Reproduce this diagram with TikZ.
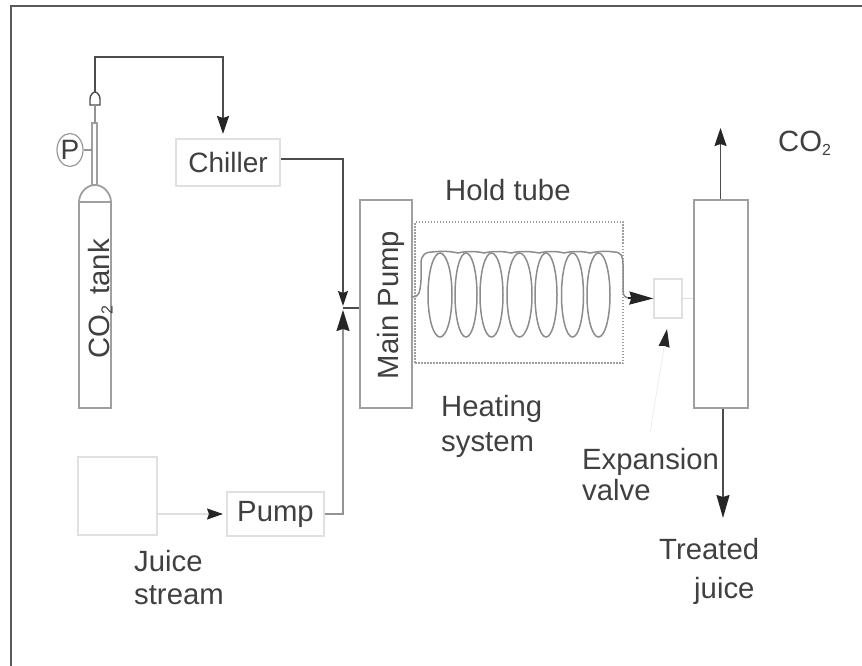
\documentclass[tikz,border=0pt]{standalone}
\usepackage{fontspec}
\setmainfont{Liberation Sans}
\usetikzlibrary{arrows.meta,shapes.geometric}
\definecolor{ink}{gray}{0.3}
\definecolor{txt}{gray}{0.25}
\definecolor{faint}{gray}{0.88}
\newcommand{\subtwo}{\raisebox{-0.12em}{\fontsize{16}{16}\selectfont 2}}
\tikzset{
 px/.style={x=1pt,y=-1pt},
 lab/.style={font=\fontsize{29.3}{37}\selectfont,text=txt,inner sep=0pt,align=left},
 pipe/.style={draw=ink,line width=1.6pt},
 greypipe/.style={draw=gray!85,line width=1.6pt},
 palepipe/.style={draw=faint,line width=1.2pt},
 box/.style={draw=gray!75,line width=1.8pt,fill=white,inner sep=0pt},
 palebox/.style={draw=faint,line width=1.2pt,fill=white,inner sep=0pt},
 tip/.style={-{Stealth[inset=2pt,length=18pt,width=12pt,black!85]}},
 coil/.style={draw=gray!90,line width=1.5pt},
 dotbox/.style={draw=gray!75,line width=2pt,dash pattern=on 1.5pt off 1.5pt},
}
\begin{document}
\begin{tikzpicture}[px]
\useasboundingbox (0,0) rectangle (862,666);
\draw[draw=black!65,line width=1.6pt] (11,666) -- (11,6) -- (862,6);
% tank
\draw[box] (79,408) -- (79,202) .. controls (79,194) and (86,185) .. (95,185) .. controls (104,185) and (111,194) .. (111,202) -- (111,408) -- cycle;
\draw[box] (79,202) -- (111,202);
\node[lab,rotate=90,anchor=base] (tank) at (109,299) {CO\subtwo{}\hspace{0.12em} tank};
\draw[box] (92,123) rectangle (97,185);
% valve
\coordinate (valve) at (95,92);
\draw[box,line width=1.4pt,draw=ink] (90,105) -- (90,99) .. controls (90,95) and (93,92) .. (95,92) .. controls (97,92) and (100,95) .. (100,99) -- (100,105) -- cycle;
\draw[greypipe] (95,105) -- (95,123);
% gauge
\node[draw=gray!80,line width=1.2pt,ellipse,minimum width=26pt,minimum height=33pt,inner sep=0pt] (gauge) at (70,150) {};
\node[font=\fontsize{28}{28}\selectfont,text=txt,inner sep=0pt] at (gauge.center) {P};
\draw[greypipe] (gauge.east) -- (92,150);
% boxes
\node[palebox,minimum width=104pt,minimum height=47pt,lab] (chiller) at (228,162.5) {\fontsize{28}{28}\selectfont Chiller};
\node[palebox,minimum width=79pt,minimum height=78pt] (juice) at (117.5,496) {};
\node[palebox,minimum width=97pt,minimum height=44pt,lab] (pump) at (275.5,514) {Pump};
\node[box,minimum width=52pt,minimum height=208pt] (mainpump) at (386,304) {};
\node[lab,rotate=90,anchor=base] at (398,305) {Main Pump};
\node[box,minimum width=54pt,minimum height=208pt] (vessel) at (721,304) {};
\node[palebox,minimum width=28pt,minimum height=39pt] (expvalve) at (668,298.5) {};
\node[dotbox,minimum width=208pt,minimum height=141pt,inner sep=0pt] (hold) at (519,292.5) {};
% pipes
\coordinate (j) at (343,308);
\draw[pipe,tip] (valve) -- (95,57) -- (223,57) -- (223,134);
\draw[pipe,-{Stealth[inset=2pt,length=15pt,width=10pt,black!85]}] (chiller.east |- 0,159) -- (343,159) -- (343,306);
\draw[greypipe,-{Stealth[inset=2pt,length=21pt,width=13pt,black!85]}] (pump.east) -- (343,514) -- (343,310);
\draw[pipe] (j) -- (mainpump.west |- j);
\draw[palepipe,-{Stealth[inset=2pt,length=16pt,width=11pt,black!85]}] (juice.east |- pump) -- (223,514);
\draw[palepipe] (expvalve.east) -- (vessel.west |- expvalve);
% coil
\foreach \cx/\rx in {440/12,466/11,491.5/11.5,519.5/12.5,546/11,572.5/11,598.5/11.5}{
  \draw[coil] (\cx,295) ellipse [x radius=\rx,y radius=42];
}
\draw[coil] (412,297) .. controls (418,297) and (420,295) .. (421,280) -- (421,264) .. controls (421,254) and (426,252) .. (432,252)
  .. controls (440,251) and (450,251) .. (458,253) .. controls (466,251) and (476,251) .. (484,253) .. controls (492,251) and (502,251) .. (511,253) .. controls (519,251) and (529,251) .. (539,253) .. controls (547,251) and (556,251) .. (564,253) .. controls (572,251) and (582,251) .. (590,253) .. controls (600,251) and (608,251) .. (614,252) .. controls (621,252) and (623,256) .. (623,264) -- (623,290) .. controls (623,296) and (625,298) .. (630,298);
\coordinate (coilend) at (628,298);
\draw[draw=black!85,line width=2pt,-{Stealth[inset=2pt,length=24pt,width=13pt,black!85]}] (coilend) -- (expvalve.west);
% vessel outlets
\coordinate (co2out) at (720.5,128);
\coordinate (juiceout) at (723,518);
\draw[pipe,tip] (vessel.north -| co2out) -- (co2out);
\draw[pipe,-{Stealth[inset=2pt,length=23pt,width=13pt,black!85]}] (vessel.south -| juiceout) -- (juiceout);
% expansion pointer
\coordinate (expfoot) at (650,433);
\coordinate (exptip) at (667,329);
\draw[draw=gray!15,line width=0.8pt,-{Stealth[inset=1pt,length=18pt,width=11pt,black!85]}] (expfoot) -- (exptip);
% labels
\node[lab,anchor=base west] at (445,200) {Hold tube};
\node[lab,anchor=base west] at (778,152) {CO\subtwo};
\node[lab,anchor=base west] at (441,416) {Heating};
\node[lab,anchor=base west] at (441,451) {system};
\node[lab,anchor=base west] at (582,469) {Expansion};
\node[lab,anchor=base west] at (582,500) {valve};
\node[lab,anchor=base west] at (659,559) {Treated};
\node[lab,anchor=base west] at (694,598) {juice};
\node[lab,anchor=base west] at (134,571) {Juice};
\node[lab,anchor=base west] at (134,604) {stream};
\end{tikzpicture}
\end{document}
